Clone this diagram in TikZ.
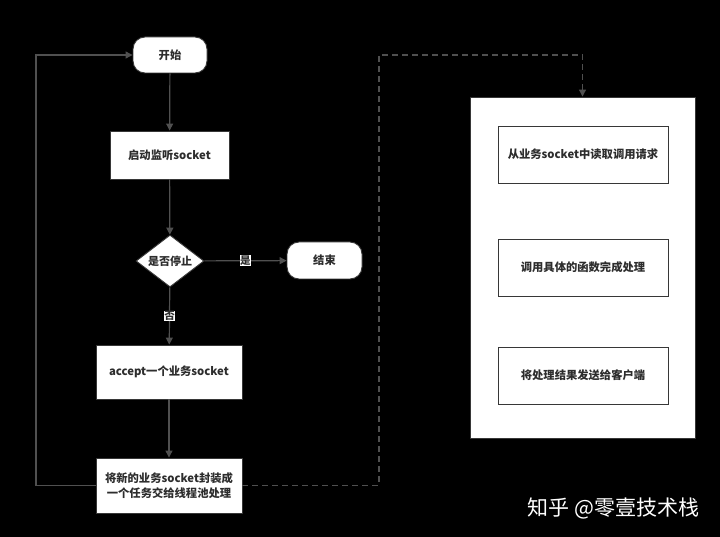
\documentclass[tikz,border=0pt]{standalone}
\usepackage{fontspec}
\setmainfont{Noto Sans CJK SC}
\usepackage{tikz}
\usetikzlibrary{shapes.geometric}
\usetikzlibrary{arrows.meta}
\definecolor{linegray}{RGB}{80,80,80}
\definecolor{boxgray}{RGB}{55,55,55}
\definecolor{txtgray}{RGB}{45,45,45}

\begin{document}
\begin{tikzpicture}[x=1pt,y=-1pt,>={Triangle[length=7pt,width=7pt]},
  box/.style={draw=boxgray,fill=white,line width=0.9pt,text=txtgray,
    font=\bfseries\fontsize{11.3}{15}\selectfont,align=center,inner sep=2pt},
  term/.style={box,rounded corners=12pt,minimum width=74pt,minimum height=36pt},
  flow/.style={draw=linegray,line width=1.2pt},
  tag/.style={fill=white,text=txtgray,inner sep=0.5pt,font=\bfseries\fontsize{10.5}{11}\selectfont}]
%Background and page size
  \useasboundingbox (0,0) rectangle (720,537);
  \fill[black] (0,0) rectangle (720,537);

    \node[term] (start) at (170,55) {开始};
    \node[box,minimum width=119pt,minimum height=48pt] (listen) at (169.5,155) {启动监听socket};
    \node[box,diamond,minimum width=68pt,minimum height=52pt,inner sep=0pt,
      label={[text=txtgray,font=\bfseries\fontsize{11}{12}\selectfont]center:是否停止}] (stop) at (170,261) {};
    \node[term,minimum width=75pt,minimum height=37pt] (finish) at (324.5,260.5) {结束};
    \node[box,minimum width=146pt,minimum height=54pt] (accept) at (169,372) {accept一个业务socket};
    \node[box,minimum width=146pt,minimum height=55pt] (wrap) at (169,485.5) {将新的业务socket封装成\\一个任务交给线程池处理};

    \node[box,minimum width=225pt,minimum height=341pt] (pool) at (582.5,267.5) {};
    \node[box,minimum width=170pt,minimum height=57pt] (read) at (583,154.5) {从业务socket中读取调用请求};
    \node[box,minimum width=170pt,minimum height=57pt] (call) at (583,267.5) {调用具体的函数完成处理};
    \node[box,minimum width=170pt,minimum height=57pt] (send) at (583,375.5) {将处理结果发送给客户端};

    \coordinate (loopturn) at (36,485.5);
    \coordinate (dashturn) at (379,55);

    \draw[flow,->] (start) -- (listen);
    \draw[flow,->] (listen) -- (stop);
    \draw[flow,->] (stop) -- node[tag]{是} (finish);
    \draw[flow,->] (stop) -- node[tag]{否} (accept);
    \draw[flow,->] (accept) -- (wrap);
    \draw[flow,->] (wrap.west) -- (loopturn) |- (start.west);
    \draw[flow,->,dash pattern=on 6pt off 4pt] (wrap.east) -| (dashturn) -| (pool.north);

    \node[text=white,font=\fontsize{21}{24}\selectfont] (mark) at (613.5,508) {知乎 @零壹技术栈};
\end{tikzpicture}
\end{document}
